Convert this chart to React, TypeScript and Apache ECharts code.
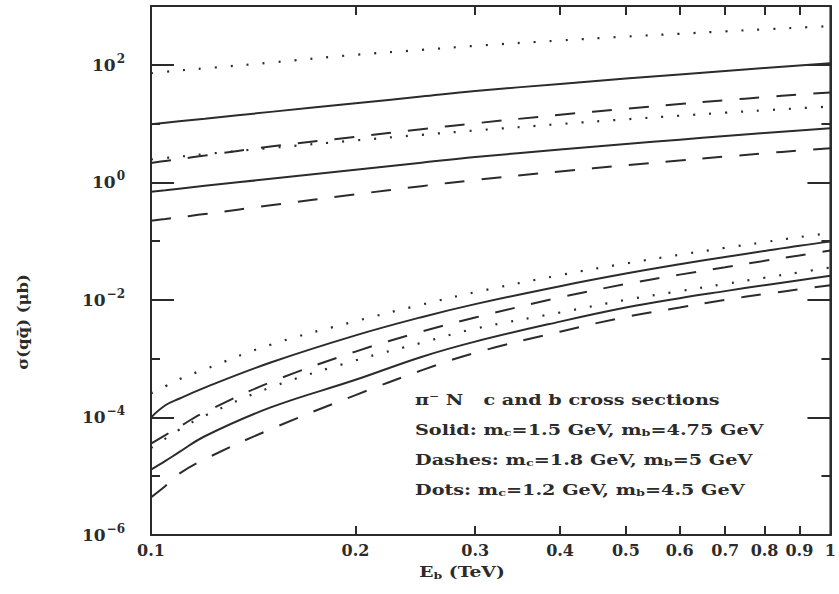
import React, { useEffect, useRef } from 'react';
import * as echarts from 'echarts';

// Beam energy E_b (TeV)
const energies = [0.1, 0.105, 0.11, 0.12, 0.15, 0.2, 0.25, 0.3, 0.4, 0.5, 0.6, 0.7, 0.8, 0.9, 1.0];

// Charm cross sections (μb)
const charmDotsA = [72, 76, 80, 87, 109, 148, 179, 210, 259, 302, 337, 370, 401, 429, 455];
const charmSolidA = [9.7, 10.3, 10.9, 12.1, 15.8, 22.1, 28.8, 35.7, 47.3, 58.2, 68.5, 78.5, 88.1, 97.2, 106];
const charmDashedA = [2.14, 2.31, 2.49, 2.85, 4.07, 5.96, 8.0, 10.1, 14.1, 17.9, 21.5, 24.9, 28.1, 31.1, 33.9];
const charmDotsB = [2.45, 2.6, 2.74, 3.02, 3.84, 5.17, 6.43, 7.62, 9.81, 11.8, 13.6, 15.3, 16.8, 18.2, 19.5];
const charmSolidB = [0.692, 0.735, 0.78, 0.871, 1.148, 1.64, 2.16, 2.69, 3.61, 4.49, 5.32, 6.12, 6.9, 7.62, 8.32];
const charmDashedB = [0.222, 0.238, 0.255, 0.288, 0.407, 0.624, 0.861, 1.096, 1.53, 1.95, 2.36, 2.74, 3.12, 3.47, 3.8];

// Bottom cross sections (μb)
const bottomDotsA = [2.57e-4, 3.39e-4, 4.47e-4, 6.61e-4, 1.73e-3, 4.34e-3, 8.28e-3, 1.35e-2, 2.64e-2, 4.17e-2, 5.85e-2, 7.69e-2, 9.62e-2, 0.117, 0.138];
const bottomSolidA = [1.0e-4, 1.61e-4, 2.08e-4, 3.22e-4, 8.59e-4, 2.49e-3, 5.08e-3, 8.47e-3, 1.71e-2, 2.8e-2, 4.03e-2, 5.36e-2, 6.81e-2, 8.36e-2, 9.8e-2];
const bottomDashedA = [3.58e-5, 5.01e-5, 6.92e-5, 1.23e-4, 3.98e-4, 1.32e-3, 2.88e-3, 5.01e-3, 1.1e-2, 1.86e-2, 2.69e-2, 3.59e-2, 4.62e-2, 5.69e-2, 6.92e-2];
const bottomDotsB = [3.02e-5, 4.37e-5, 6.17e-5, 1.07e-4, 3.24e-4, 9.33e-4, 1.86e-3, 3.24e-3, 6.1e-3, 1.0e-2, 1.41e-2, 1.87e-2, 2.38e-2, 2.94e-2, 3.56e-2];
const bottomSolidB = [1.29e-5, 1.82e-5, 2.57e-5, 4.79e-5, 1.48e-4, 4.37e-4, 1.07e-3, 1.95e-3, 4.27e-3, 7.41e-3, 1.07e-2, 1.41e-2, 1.78e-2, 2.16e-2, 2.57e-2];
const bottomDashedB = [4.37e-6, 6.81e-6, 1.1e-5, 1.95e-5, 6.31e-5, 2.4e-4, 6.31e-4, 1.26e-3, 2.88e-3, 5.13e-3, 7.41e-3, 1.0e-2, 1.26e-2, 1.51e-2, 1.78e-2];

// Axis ticks
const xTickLabels = [0.1, 0.2, 0.3, 0.4, 0.5, 0.6, 0.7, 0.8, 0.9, 1];
const xTickMarks = [0.2, 0.3, 0.4, 0.5, 0.6, 0.7, 0.8, 0.9];
const yMinExp = -6;
const yMaxExp = 3;

const legendLines = [
  'π⁻ N   c and b cross sections',
  'Solid: m{sub|c}=1.5 GeV, m{sub|b}=4.75 GeV',
  'Dashes: m{sub|c}=1.8 GeV, m{sub|b}=5 GeV',
  'Dots: m{sub|c}=1.2 GeV, m{sub|b}=4.5 GeV',
];

const INK = '#2b2b2b';
const FONT = '"DejaVu Serif", "Liberation Serif", serif';

type Kind = 'solid' | 'dashed' | 'dotted';
const seriesDefs: { name: string; values: number[]; kind: Kind }[] = [
  { name: 'c dots A', values: charmDotsA, kind: 'dotted' },
  { name: 'c solid A', values: charmSolidA, kind: 'solid' },
  { name: 'c dashed A', values: charmDashedA, kind: 'dashed' },
  { name: 'c dots B', values: charmDotsB, kind: 'dotted' },
  { name: 'c solid B', values: charmSolidB, kind: 'solid' },
  { name: 'c dashed B', values: charmDashedB, kind: 'dashed' },
  { name: 'b dots A', values: bottomDotsA, kind: 'dotted' },
  { name: 'b solid A', values: bottomSolidA, kind: 'solid' },
  { name: 'b dashed A', values: bottomDashedA, kind: 'dashed' },
  { name: 'b dots B', values: bottomDotsB, kind: 'dotted' },
  { name: 'b solid B', values: bottomSolidB, kind: 'solid' },
  { name: 'b dashed B', values: bottomDashedB, kind: 'dashed' },
];

function lineStyleFor(kind: Kind) {
  if (kind === 'dashed') return { color: INK, width: 2, type: [20, 17] as number[] };
  if (kind === 'dotted') return { color: INK, width: 2.2, type: [2, 14] as number[] };
  return { color: INK, width: 2, type: 'solid' as const };
}

const supMinus = (e: number) => (e < 0 ? '−' + String(-e) : String(e));

export default function App() {
  const ref = useRef<HTMLDivElement>(null);

  useEffect(() => {
    document.body.style.margin = '0';
    if (!ref.current) return;
    const chart = echarts.init(ref.current, undefined, { renderer: 'svg' });

    const tickLine = { color: INK, width: 2 };
    const baseY = {
      type: 'value' as const,
      min: yMinExp,
      max: yMaxExp,
      splitLine: { show: false },
      axisLine: { show: true, onZero: false, lineStyle: { color: INK, width: 2 } },
    };
    const baseX = {
      type: 'value' as const,
      min: Math.log10(0.1),
      max: Math.log10(1),
      splitLine: { show: false },
      axisLine: { show: true, onZero: false, lineStyle: { color: INK, width: 2 } },
      axisTick: {
        show: true,
        inside: true,
        length: 9,
        lineStyle: tickLine,
        customValues: xTickMarks.map((v) => Math.log10(v)),
      },
    };

    const option: any = {
      animation: false,
      backgroundColor: '#ffffff',
      grid: {
        left: 151,
        right: 7,
        top: 6,
        bottom: 59,
        show: true,
        borderColor: INK,
        borderWidth: 2,
        backgroundColor: 'transparent',
      },
      xAxis: [
        {
          ...baseX,
          position: 'bottom',
          axisLabel: {
            show: true,
            margin: 7,
            color: INK,
            fontFamily: FONT,
            fontWeight: 'bold',
            fontSize: 16,
            customValues: xTickLabels.map((v) => Math.log10(v)),
            formatter: (v: number) => String(Math.round(Math.pow(10, v) * 10) / 10),
          },
        },
        { ...baseX, position: 'top', axisLabel: { show: false } },
      ],
      yAxis: [
        {
          ...baseY,
          position: 'left',
          interval: 2,
          axisTick: { show: true, inside: true, length: 23, lineStyle: tickLine },
          axisLabel: {
            show: true,
            margin: 26,
            color: INK,
            formatter: (v: number) =>
              Math.abs(v % 2) === 0 && v <= 2 ? `{b|10}{s|${supMinus(v)}}` : '',
            rich: {
              b: { fontSize: 17, fontWeight: 'bold', fontFamily: FONT, color: INK },
              s: { fontSize: 12, fontWeight: 'bold', fontFamily: FONT, color: INK, padding: [0, 0, 12, 1] },
            },
          },
        },
        {
          ...baseY,
          position: 'left',
          interval: 1,
          axisLine: { show: false, onZero: false },
          axisTick: { show: true, inside: true, length: 9, lineStyle: tickLine },
          axisLabel: { show: false },
        },
        {
          ...baseY,
          position: 'right',
          interval: 2,
          axisTick: { show: true, inside: true, length: 23, lineStyle: tickLine },
          axisLabel: { show: false },
        },
        {
          ...baseY,
          position: 'right',
          interval: 1,
          axisLine: { show: false, onZero: false },
          axisTick: { show: true, inside: true, length: 9, lineStyle: tickLine },
          axisLabel: { show: false },
        },
      ],
      series: seriesDefs.map((d) => ({
        type: 'line',
        name: d.name,
        xAxisIndex: 0,
        yAxisIndex: 0,
        data: energies.map((e, i) => [Math.log10(e), Math.log10(d.values[i])]),
        showSymbol: false,
        symbol: 'none',
        smooth: 0.4,
        silent: true,
        lineStyle: lineStyleFor(d.kind),
        z: 3,
      })),
      graphic: [
        ...legendLines.map((t, i) => ({
          type: 'text',
          x: 415,
          y: 400 + i * 30,
          scaleX: 1.28,
          silent: true,
          style: {
            text: t,
            fill: INK,
            fontFamily: FONT,
            fontWeight: 'bold',
            fontSize: 15,
            verticalAlign: 'middle',
            align: 'left',
            rich: {
              sub: { fontFamily: FONT, fontWeight: 'bold', fontSize: 10, fill: INK, padding: [6, 0, 0, 0] },
            },
          },
        })),
        {
          type: 'text',
          x: 462,
          y: 572,
          scaleX: 1.25,
          silent: true,
          style: {
            text: 'E{sub|b} (TeV)',
            fill: INK,
            fontFamily: FONT,
            fontWeight: 'bold',
            fontSize: 15,
            align: 'center',
            verticalAlign: 'middle',
            rich: {
              sub: { fontFamily: FONT, fontWeight: 'bold', fontSize: 10, fill: INK, padding: [6, 0, 0, 0] },
            },
          },
        },
        {
          type: 'text',
          x: 23,
          y: 322,
          rotation: Math.PI / 2,
          scaleX: 1.1,
          silent: true,
          style: {
            text: 'σ(qq̄) (μb)',
            fill: INK,
            fontFamily: FONT,
            fontWeight: 'bold',
            fontSize: 15,
            align: 'center',
            verticalAlign: 'middle',
          },
        },
      ],
    };

    chart.setOption(option);
    return () => {
      chart.dispose();
    };
  }, []);

  return <div ref={ref} style={{ width: 839, height: 594 }} />;
}
